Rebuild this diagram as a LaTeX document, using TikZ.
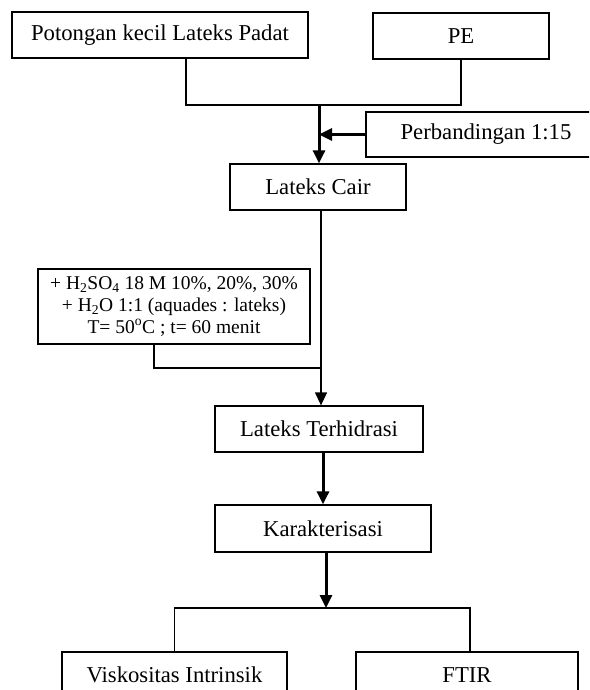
\documentclass[tikz,border=0pt]{standalone}
\usepackage{fontspec}
\setmainfont{Liberation Serif}
\usetikzlibrary{arrows.meta}
\begin{document}
\begin{tikzpicture}[x=1pt,y=-1pt,
  box/.style={draw, line width=1.3pt, inner sep=0pt, rectangle, font=\fontsize{22.7}{26}\selectfont},
  thinline/.style={line width=1.3pt},
  thickarrow/.style={line width=3pt, -{Triangle[length=13pt,width=12pt]}},
  thinarrow/.style={line width=1.3pt, -{Triangle[length=13pt,width=12pt]}}]
\useasboundingbox (0,0) rectangle (589,690);
\clip (0,0) rectangle (589,690);
\node[box, minimum width=296pt, minimum height=46pt] (pot) at (160,35) {Potongan kecil Lateks Padat};
\node[box, minimum width=176pt, minimum height=46pt] (pe) at (461,36) {PE};
\node[box, minimum width=240pt, minimum height=45pt] (perb) at (486,134.5) {Perbandingan 1:15};
\node[box, minimum width=176pt, minimum height=46pt] (cair) at (318,187) {Lateks Cair};
\node[box, minimum width=272pt, minimum height=75pt, align=center, font=\fontsize{19.5}{22}\selectfont] (h2so) at (174,306.5)
  {+ H\textsubscript{2}SO\textsubscript{4} 18 M 10\%, 20\%, 30\%\\ + H\textsubscript{2}O 1:1 (aquades : lateks)\\ T= 50\textsuperscript{o}C ; t= 60 menit};
\node[box, minimum width=208pt, minimum height=46pt] (terh) at (319,429) {Lateks Terhidrasi};
\node[box, minimum width=216pt, minimum height=47pt] (kar) at (323,528.5) {Karakterisasi};
\node[box, minimum width=225pt, minimum height=46pt] (visk) at (174.5,675) {Viskositas Intrinsik};
\node[box, minimum width=222pt, minimum height=46pt] (ftir) at (467,675) {FTIR};
\coordinate (j1) at (319,105);
\coordinate (j2) at (321,368);
\coordinate (j3) at (326,608);
\draw[thinline] ([xshift=26pt]pot.south) |- (j1) -| (pe.south);
\draw[thickarrow] (j1) -- (j1 |- cair.north);
\draw[thickarrow] (perb.west) -- (perb.west -| j1);
\draw[thinarrow] ([xshift=3pt]cair.south) -- ([xshift=3pt]cair.south |- terh.north);
\draw[thinline] ([xshift=-20pt]h2so.south) |- (j2);
\draw[thickarrow] ([xshift=4pt]terh.south) -- ([xshift=4pt]terh.south |- kar.north);
\draw[thickarrow] ([xshift=3pt]kar.south) -- (j3);
\draw[thinline] (visk.north) |- (j3) -| ([xshift=3pt]ftir.north);
\end{tikzpicture}
\end{document}
